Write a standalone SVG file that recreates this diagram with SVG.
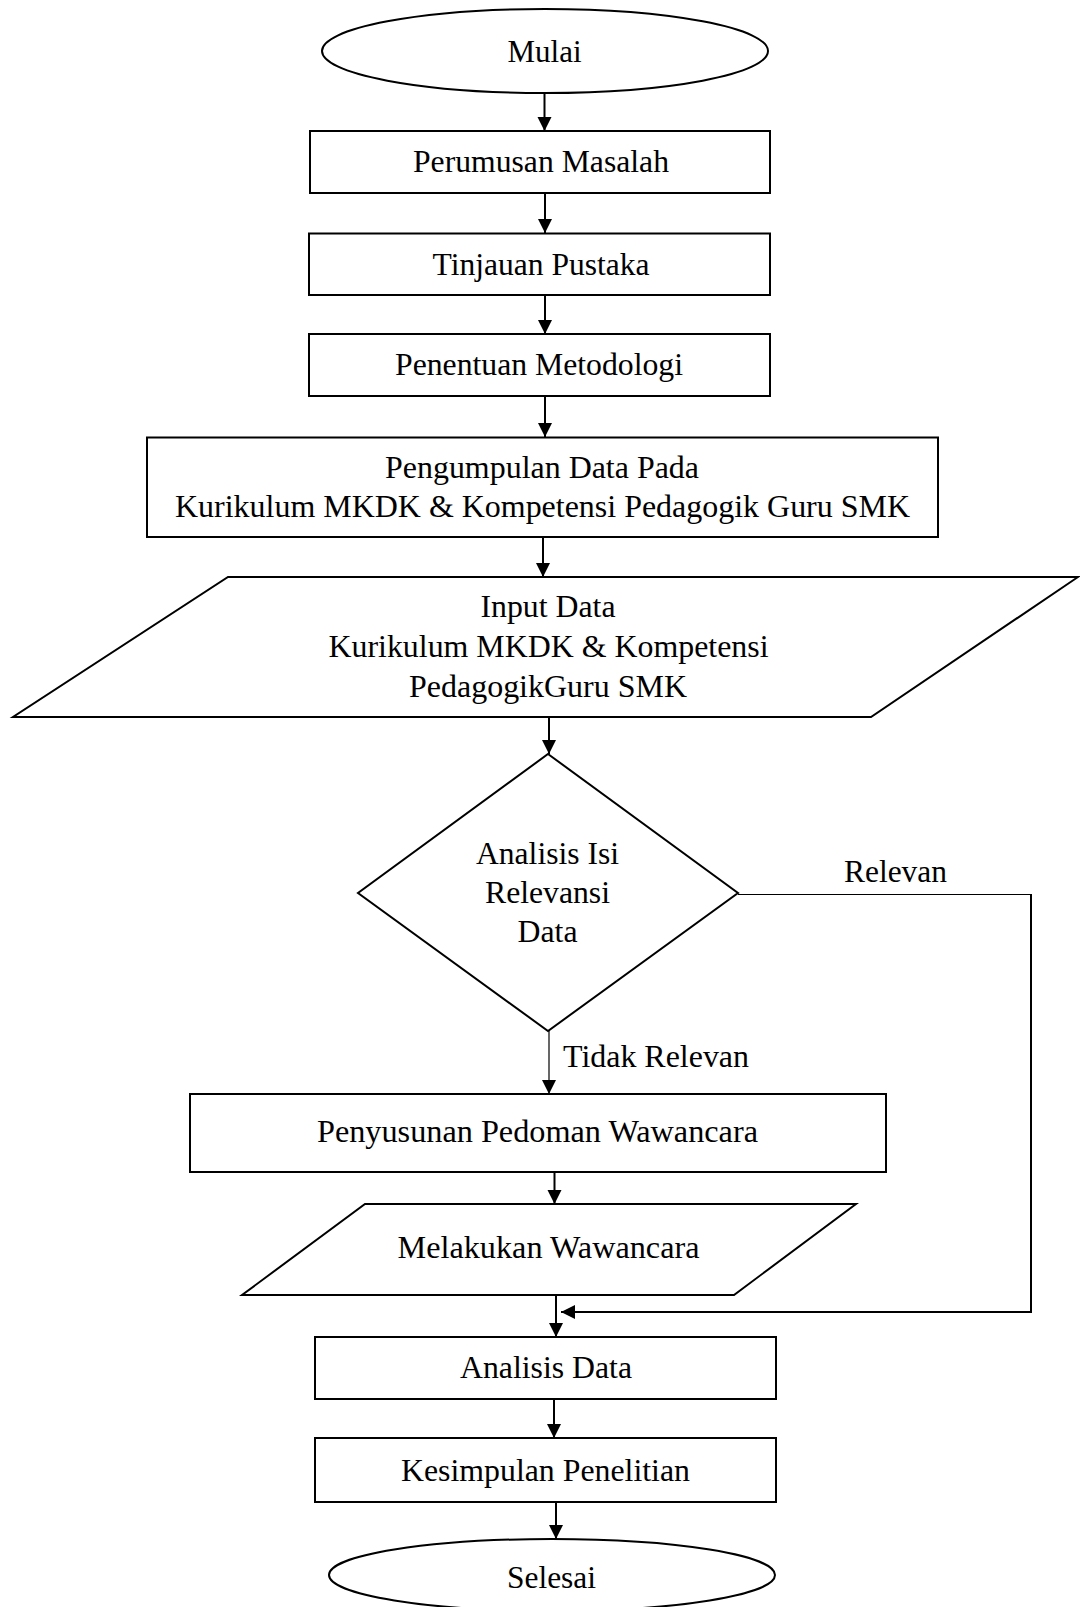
<svg xmlns="http://www.w3.org/2000/svg" width="1080" height="1607" viewBox="0 0 1080 1607">
<style>
.shape{fill:#fff;stroke:#000;stroke-width:2}
.t{font-family:'Liberation Serif','Times New Roman',serif;font-size:30.5px;fill:#000;text-anchor:middle}
.ts{font-family:'Liberation Serif','Times New Roman',serif;font-size:30.5px;fill:#000;text-anchor:start}
.c{fill:none;stroke:#000;stroke-width:2}
.thin{fill:none;stroke:#000;stroke-width:1.2}
</style>
<defs>
<marker id="ah" markerUnits="userSpaceOnUse" markerWidth="15" markerHeight="15" refX="14" refY="7" orient="auto">
<path d="M0,0 L14,7 L0,14 z" fill="#000"/>
</marker>
</defs>
<rect width="1080" height="1607" fill="#fff"/>
<g id="connectors">
<line class="c" x1="544.5" y1="93" x2="544.5" y2="131" marker-end="url(#ah)"/>
<line class="c" x1="545" y1="193" x2="545" y2="233" marker-end="url(#ah)"/>
<line class="c" x1="545" y1="295" x2="545" y2="334" marker-end="url(#ah)"/>
<line class="c" x1="545" y1="396" x2="545" y2="437" marker-end="url(#ah)"/>
<line class="c" x1="543" y1="537" x2="543" y2="577" marker-end="url(#ah)"/>
<line class="c" x1="549" y1="717" x2="549" y2="754" marker-end="url(#ah)"/>
<line class="thin" x1="549" y1="1031" x2="549" y2="1094" marker-end="url(#ah)"/>
<line class="c" x1="554.5" y1="1172" x2="554.5" y2="1204" marker-end="url(#ah)"/>
<line class="c" x1="556" y1="1295" x2="556" y2="1337" marker-end="url(#ah)"/>
<line class="thin" x1="738" y1="894.5" x2="1031" y2="894.5"/>
<path class="c" d="M1031,894 L1031,1312 L561,1312" marker-end="url(#ah)"/>
<line class="c" x1="554" y1="1399" x2="554" y2="1438" marker-end="url(#ah)"/>
<line class="c" x1="556" y1="1502" x2="556" y2="1539" marker-end="url(#ah)"/>
<text class="t" x="895.5" y="882" textLength="103" lengthAdjust="spacingAndGlyphs">Relevan</text>
<text class="ts" x="563" y="1067" textLength="186" lengthAdjust="spacingAndGlyphs">Tidak Relevan</text>
</g>
<g id="mulai">
<ellipse class="shape" cx="545" cy="51" rx="223" ry="42"/>
<text class="t" x="544.5" y="62" textLength="74" lengthAdjust="spacingAndGlyphs">Mulai</text>
</g>
<g id="perumusan">
<rect class="shape" x="310" y="131" width="460" height="62"/>
<text class="t" x="541" y="172" textLength="256" lengthAdjust="spacingAndGlyphs">Perumusan Masalah</text>
</g>
<g id="tinjauan">
<rect class="shape" x="309" y="233.5" width="461" height="61.5"/>
<text class="t" x="541" y="274.5" textLength="217" lengthAdjust="spacingAndGlyphs">Tinjauan Pustaka</text>
</g>
<g id="penentuan">
<rect class="shape" x="309" y="334" width="461" height="62"/>
<text class="t" x="539" y="374.5" textLength="288" lengthAdjust="spacingAndGlyphs">Penentuan Metodologi</text>
</g>
<g id="pengumpulan">
<rect class="shape" x="147" y="437.5" width="791" height="99.5"/>
<text class="t" x="542" y="478" textLength="314" lengthAdjust="spacingAndGlyphs">Pengumpulan Data Pada</text>
<text class="t" x="542.5" y="517" textLength="735" lengthAdjust="spacingAndGlyphs">Kurikulum MKDK &amp; Kompetensi Pedagogik Guru SMK</text>
</g>
<g id="input">
<polygon class="shape" points="228,577 1078,577 871,717 13,717"/>
<text class="t" x="548" y="617" textLength="135" lengthAdjust="spacingAndGlyphs">Input Data</text>
<text class="t" x="548.5" y="657" textLength="440" lengthAdjust="spacingAndGlyphs">Kurikulum MKDK &amp; Kompetensi</text>
<text class="t" x="548" y="697" textLength="278" lengthAdjust="spacingAndGlyphs">PedagogikGuru SMK</text>
</g>
<g id="analisis-isi">
<polygon class="shape" points="548,754 738,893 548,1031 358,893"/>
<text class="t" x="547.5" y="864" textLength="143" lengthAdjust="spacingAndGlyphs">Analisis Isi</text>
<text class="t" x="547.5" y="903" textLength="125" lengthAdjust="spacingAndGlyphs">Relevansi</text>
<text class="t" x="547.5" y="942" textLength="60" lengthAdjust="spacingAndGlyphs">Data</text>
</g>
<g id="penyusunan">
<rect class="shape" x="190" y="1094" width="696" height="78"/>
<text class="t" x="537.5" y="1142" textLength="441" lengthAdjust="spacingAndGlyphs">Penyusunan Pedoman Wawancara</text>
</g>
<g id="melakukan">
<polygon class="shape" points="365,1204 856,1204 734,1295 242,1295"/>
<text class="t" x="548.5" y="1258" textLength="302" lengthAdjust="spacingAndGlyphs">Melakukan Wawancara</text>
</g>
<g id="analisis-data">
<rect class="shape" x="315" y="1337" width="461" height="62"/>
<text class="t" x="546" y="1378" textLength="172" lengthAdjust="spacingAndGlyphs">Analisis Data</text>
</g>
<g id="kesimpulan">
<rect class="shape" x="315" y="1438" width="461" height="64"/>
<text class="t" x="545.5" y="1481" textLength="289" lengthAdjust="spacingAndGlyphs">Kesimpulan Penelitian</text>
</g>
<g id="selesai">
<ellipse class="shape" cx="552" cy="1575" rx="223" ry="36"/>
<text class="t" x="551.5" y="1588" textLength="89" lengthAdjust="spacingAndGlyphs">Selesai</text>
</g>
</svg>
